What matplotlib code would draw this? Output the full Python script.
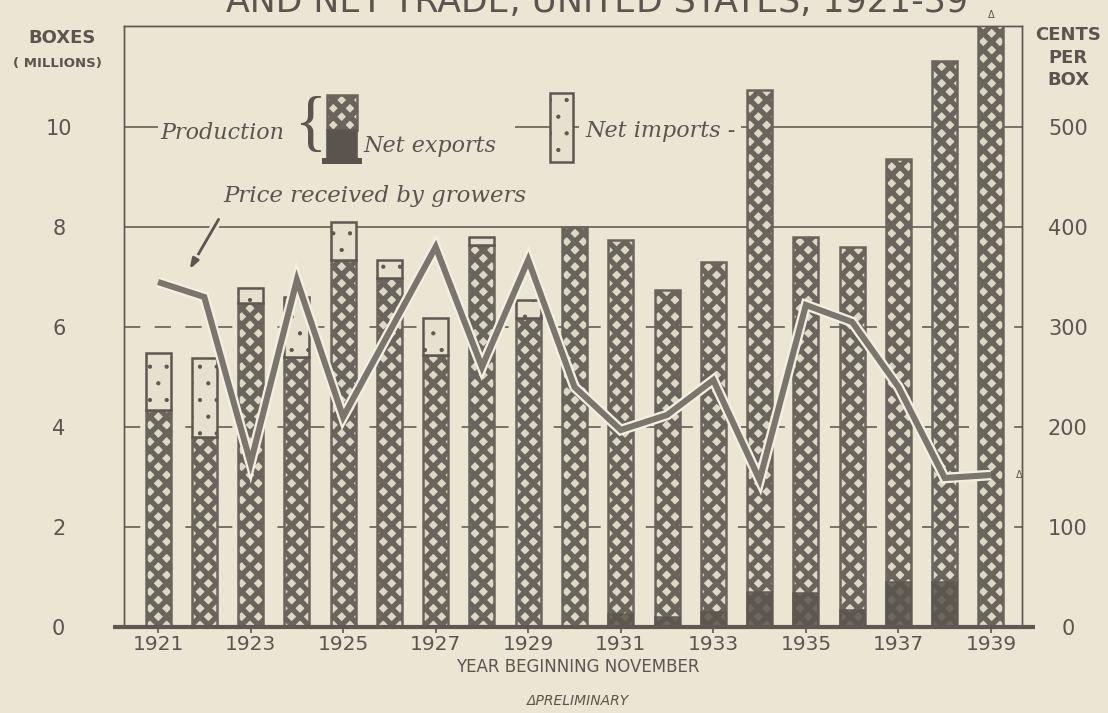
import matplotlib
matplotlib.use('Agg')
import matplotlib.pyplot as plt
import matplotlib.patheffects as pe
from matplotlib.patches import Rectangle
import numpy as np

# ---------------- data ----------------
years = [1921, 1922, 1923, 1924, 1925, 1926, 1927, 1928, 1929, 1930,
         1931, 1932, 1933, 1934, 1935, 1936, 1937, 1938, 1939]
production = [4.34, 3.80, 6.48, 5.40, 7.34, 6.98, 5.44, 7.64, 6.18, 8.00,
              7.74, 6.74, 7.30, 10.74, 7.80, 7.60, 9.36, 11.32, 12.10]
net_imports = [1.14, 1.58, 0.30, 1.20, 0.76, 0.36, 0.74, 0.16, 0.36, 0.0,
               0.0, 0.0, 0.0, 0.0, 0.0, 0.0, 0.0, 0.0, 0.0]
net_exports = [0.0, 0.0, 0.0, 0.0, 0.0, 0.0, 0.0, 0.0, 0.0, 0.0,
               0.26, 0.20, 0.30, 0.70, 0.68, 0.34, 0.90, 0.90, 0.0]
price = [345, 330, 164, 347, 210, 295, 380, 260, 367, 240,
         197, 212, 247, 147, 322, 305, 240, 149, 152]
left_ticks = [0, 2, 4, 6, 8, 10]
right_ticks = [0, 100, 200, 300, 400, 500]
xtick_years = [1921, 1923, 1925, 1927, 1929, 1931, 1933, 1935, 1937, 1939]

# ---------------- style ----------------
BG = '#ebe5d3'
DARK = '#5d5850'
GRID = '#6e6960'
HFACE = '#ddd7c5'
HATCHC = '#6a655c'
LIGHT = '#e6e1cf'
EXP = '#5a554c'
LINE = '#7b766d'
HALO = '#f3efe3'
TXT = '#5a564f'

W, H = 1108, 713
fig = plt.figure(figsize=(W / 100, H / 100), dpi=100, facecolor=BG)
L, R, B, T = 124, 1022, 627, 26
ax = fig.add_axes([L / W, (H - B) / H, (R - L) / W, (B - T) / H])
ax.set_facecolor(BG)
ax.set_xlim(1920.265, 1939.67)
ymax = 12.02
ax.set_ylim(0, ymax)
ax2 = ax.twinx()
ax2.set_ylim(0, ymax * 50)

yrs = np.array(years)
prod = np.array(production)
imp = np.array(net_imports)
exp_ = np.array(net_exports)
bw = 0.54

# gridlines
for v in left_ticks[1:]:
    if v >= 8:
        ax.axhline(v, color=GRID, lw=1.3, zorder=1)
    else:
        ax.axhline(v, color=GRID, lw=1.3, ls=(0, (9, 8)), zorder=1)


def set_hlw(patches, lw):
    for p in patches:
        try:
            p.set_hatch_linewidth(lw)
        except AttributeError:
            pass

# production bars
pb = ax.bar(yrs, prod, width=bw, color=HFACE, edgecolor=HATCHC, hatch='xx',
            linewidth=1.8, zorder=3)
set_hlw(pb, 3.8)
# net imports stacked
m = imp > 0
ib = ax.bar(yrs[m], imp[m], bottom=prod[m], width=bw, color=LIGHT,
            edgecolor=DARK, hatch='.', linewidth=1.8, zorder=3)
set_hlw(ib, 0.6)
# net exports (dark base of production)
m = exp_ > 0
ax.bar(yrs[m], exp_[m], width=bw, color=EXP, edgecolor=DARK, linewidth=1.2,
       zorder=4, alpha=0.85)

# price line
ax2.plot(yrs, price, color=LINE, lw=4.4, solid_joinstyle='miter',
         solid_capstyle='butt', zorder=5,
         path_effects=[pe.Stroke(linewidth=7.7, foreground=HALO), pe.Normal()])
ax2.annotate('Δ', xy=(yrs[-1], price[-1]), xytext=(20, 0),
             textcoords='offset points', fontsize=7, color=TXT,
             ha='center', va='center')
ax.annotate('Δ', xy=(yrs[-1], ymax), xytext=(0, 4), textcoords='offset points',
            fontsize=7, color=TXT, ha='center', va='bottom', annotation_clip=False)

# spines / ticks
for a in (ax, ax2):
    for s in ('left', 'right', 'top'):
        a.spines[s].set_color(DARK)
        a.spines[s].set_linewidth(1.0)
    a.spines['bottom'].set_visible(False)
ax.plot([-0.012, 1.014], [0, 0], transform=ax.transAxes, color=DARK, lw=3,
        clip_on=False, zorder=6, solid_capstyle='butt')

ax.set_xticks(xtick_years)
ax.set_xticklabels([str(y) for y in xtick_years])
ax.tick_params(axis='x', length=4, width=1.2, color=DARK, direction='out',
               pad=2, labelsize=14.5, labelcolor=TXT)
ax.set_yticks(left_ticks)
ax.set_yticklabels([str(v) for v in left_ticks])
ax.tick_params(axis='y', length=0, pad=47, labelsize=15, labelcolor=TXT)
for t in ax.get_yticklabels():
    t.set_horizontalalignment('center')
ax2.set_yticks(right_ticks)
ax2.set_yticklabels([str(v) for v in right_ticks])
ax2.tick_params(axis='y', length=0, pad=33, labelsize=15, labelcolor=TXT)
for t in ax2.get_yticklabels():
    t.set_horizontalalignment('center')


def fx(px):
    return px / W


def fy(py):
    return 1 - py / H

# axis titles
fig.text(fx(62), fy(38), 'BOXES', fontsize=13, fontweight='bold', color=TXT,
         ha='center', va='center')
fig.text(fx(57), fy(63), '( MILLIONS)', fontsize=9.5, fontweight='bold',
         color=TXT, ha='center', va='center')
for s, y in (('CENTS', 35), ('PER', 58), ('BOX', 80)):
    fig.text(fx(1068), fy(y), s, fontsize=13, fontweight='bold', color=TXT,
             ha='center', va='center')
fig.text(fx(578), fy(667), 'YEAR BEGINNING NOVEMBER', fontsize=12, color=TXT,
         ha='center', va='center')
fig.text(fx(578), fy(701), 'ΔPRELIMINARY', fontsize=10, style='italic',
         color=TXT, ha='center', va='center')
fig.text(fx(597), fy(12), 'AND NET TRADE, UNITED STATES, 1921-39', fontsize=25,
         color=TXT, ha='center', va='baseline')

# ------------- in-chart key -------------
def axx(px):
    return (px - L) / (R - L)


def axy(py):
    return (B - py) / (B - T)

serif = ['DejaVu Serif']
# mask the 10-line behind key
ax.add_patch(Rectangle((axx(284), axy(140)), axx(515) - axx(284),
                       axy(118) - axy(140), transform=ax.transAxes,
                       facecolor=BG, edgecolor='none', zorder=2))
ax.text(axx(160), axy(133), 'Production', transform=ax.transAxes,
        fontsize=16, style='italic', family=serif, color=TXT, ha='left',
        va='center', zorder=7,
        bbox=dict(boxstyle='square,pad=0.1', fc=BG, ec='none'))
ax.text(axx(311), axy(127), '{', transform=ax.transAxes, fontsize=48,
        family=['Liberation Serif', 'DejaVu Serif'], color=TXT,
        ha='center', va='center', zorder=7)
kb = Rectangle((axx(327), axy(130)), axx(357) - axx(327), axy(95) - axy(130),
               transform=ax.transAxes, facecolor=HFACE, edgecolor=HATCHC,
               hatch='xx', lw=1.8, zorder=7)
set_hlw([kb], 4.0)
ax.add_patch(kb)
ax.add_patch(Rectangle((axx(327), axy(160)), axx(357) - axx(327),
                       axy(130) - axy(160), transform=ax.transAxes,
                       facecolor=EXP, edgecolor=DARK, lw=1.2, zorder=7))
ax.add_patch(Rectangle((axx(322), axy(164)), axx(362) - axx(322),
                       axy(158) - axy(164), transform=ax.transAxes,
                       facecolor=EXP, edgecolor='none', zorder=7))
ax.text(axx(363), axy(146), 'Net exports', transform=ax.transAxes,
        fontsize=16, style='italic', family=serif, color=TXT, ha='left',
        va='center', zorder=7)
ki = Rectangle((axx(550), axy(162)), axx(573) - axx(550), axy(93) - axy(162),
               transform=ax.transAxes, facecolor=LIGHT, edgecolor=DARK,
               hatch='.', lw=1.8, zorder=7)
set_hlw([ki], 0.6)
ax.add_patch(ki)
ax.text(axx(585), axy(131), 'Net imports -', transform=ax.transAxes,
        fontsize=16, style='italic', family=serif, color=TXT, ha='left',
        va='center', zorder=7,
        bbox=dict(boxstyle='square,pad=0.25', fc=BG, ec='none'))
ax.text(axx(223), axy(196), 'Price received by growers', transform=ax.transAxes,
        fontsize=16.5, style='italic', family=serif, color=TXT, ha='left',
        va='center', zorder=7)
ax.annotate('', xy=(axx(188), axy(272)), xytext=(axx(220), axy(217)),
            xycoords='axes fraction', textcoords='axes fraction',
            arrowprops=dict(arrowstyle='-|>,head_length=0.6,head_width=0.2',
                            color=TXT, lw=2.0,
                            path_effects=[pe.Stroke(linewidth=6, foreground=BG),
                                          pe.Normal()]),
            zorder=7)

fig.savefig('out.png', dpi=100, facecolor=BG)
